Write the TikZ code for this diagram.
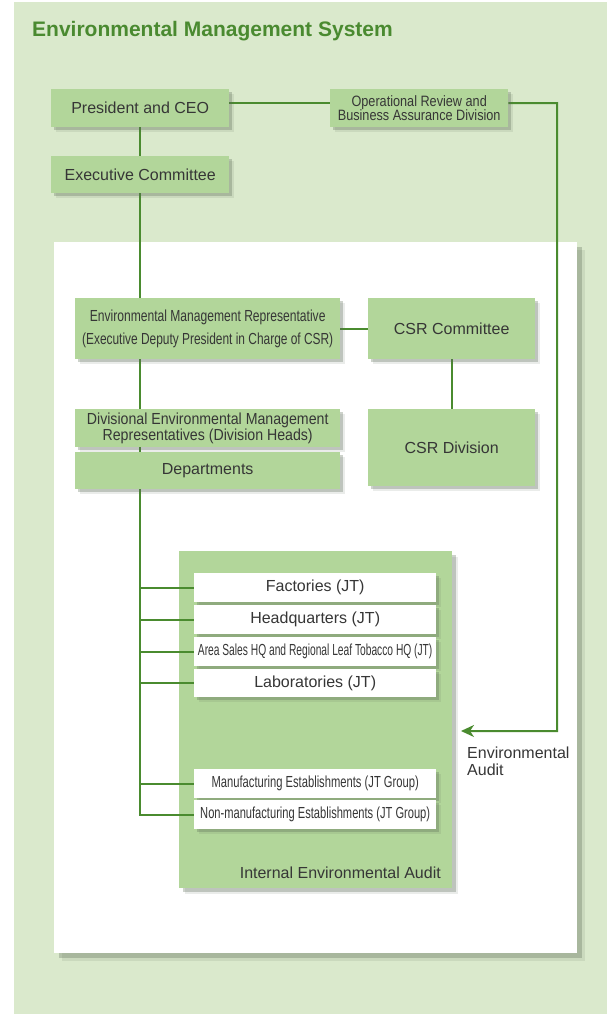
\documentclass[tikz,border=0pt]{standalone}
\usepackage{graphicx}
\usepackage{fontspec}
\setmainfont{Liberation Sans}
\usetikzlibrary{shadows,arrows.meta}

\definecolor{pagebg}{HTML}{DAE9CC}
\definecolor{boxgreen}{HTML}{B2D69A}
\definecolor{wire}{HTML}{4A8B2F}
\definecolor{titlegreen}{HTML}{4A8A30}
\definecolor{ink}{HTML}{363636}
\definecolor{shade}{HTML}{5A6A55}

\pgfdeclarelayer{page}
\pgfdeclarelayer{back}
\pgfdeclarelayer{wires}
\pgfsetlayers{page,back,wires,main}

% text sizes
\newcommand\txt{\fontsize{16}{19}\selectfont}
\newcommand\narrow[2]{\scalebox{#1}[1]{#2}}

\tikzset{
  soft shadow/.style={
    drop shadow={shadow xshift=5pt, shadow yshift=-5pt, fill=shade, opacity=0.12},
    drop shadow={shadow xshift=3pt, shadow yshift=-3pt, fill=shade, opacity=0.3}},
  box/.style={fill=boxgreen, draw=none, inner sep=0pt, anchor=north west,
    align=center, text=ink, font=\txt, soft shadow},
  unitbox/.style={box, fill=white, minimum width=242pt},
  link/.style={draw=wire, line width=2pt},
}

\begin{document}
\begin{tikzpicture}[x=1pt, y=-1pt]
  % page
  \begin{pgfonlayer}{page}
    \fill[white] (0,0) rectangle (607,1015);
    \fill[pagebg] (14,2) rectangle (607,1014);
  \end{pgfonlayer}
  \useasboundingbox (0,0) rectangle (607,1015);

  \node[anchor=base west, inner sep=0pt, text=titlegreen,
        font=\fontsize{21}{25}\selectfont\bfseries] (title) at (32,36)
        {Environmental Management System};

  % white panel and audit area
  \begin{pgfonlayer}{back}
    \node[fill=white, inner sep=0pt, anchor=north west,
          minimum width=523pt, minimum height=711pt,
          drop shadow={shadow xshift=8pt, shadow yshift=-8pt, fill=shade, opacity=0.12},
          drop shadow={shadow xshift=5pt, shadow yshift=-5pt, fill=shade, opacity=0.3}]
          (panel) at (54,242) {};
    \node[fill=boxgreen, inner sep=0pt, anchor=north west,
          minimum width=273pt, minimum height=337pt,
          drop shadow={shadow xshift=6pt, shadow yshift=-6pt, fill=shade, opacity=0.12},
          drop shadow={shadow xshift=4pt, shadow yshift=-4pt, fill=shade, opacity=0.3}]
          (audit) at (179,551) {};
  \end{pgfonlayer}

  % top management
  \node[box, minimum width=178pt, minimum height=38pt] (ceo) at (51,89)
       {President and CEO};
  \node[box, minimum width=178pt, minimum height=38pt,
        font=\fontsize{15}{14.7}\selectfont] (ord) at (330,89)
       {\narrow{0.845}{Operational Review and}\\\narrow{0.845}{Business Assurance Division}};
  \node[box, minimum width=178pt, minimum height=37pt] (exec) at (51,156)
       {Executive Committee};

  % environmental management line
  \node[box, minimum width=265pt, minimum height=61pt,
        font=\fontsize{16}{23}\selectfont] (emr) at (75,298)
       {\narrow{0.755}{Environmental Management Representative}\\
        \narrow{0.745}{(Executive Deputy President in Charge of CSR)}};
  \node[box, minimum width=167pt, minimum height=61pt] (csrc) at (368,298)
       {CSR Committee};
  \node[box, minimum width=265pt, minimum height=38pt,
        font=\fontsize{16}{15.7}\selectfont] (div) at (75,409)
       {\narrow{0.885}{Divisional Environmental Management}\\
        \narrow{0.885}{Representatives (Division Heads)}};
  \node[box, minimum width=265pt, minimum height=37pt] (dept) at (75,452)
       {Departments};
  \node[box, minimum width=167pt, minimum height=77pt] (csrd) at (368,409)
       {CSR Division};

  % establishments
  \node[unitbox, minimum height=29pt] (fact) at (194,573) {Factories (JT)};
  \node[unitbox, minimum height=29pt] (hq)   at (194,605) {Headquarters (JT)};
  \node[unitbox, minimum height=29pt] (area) at (194,637)
       {\narrow{0.64}{Area Sales HQ and Regional Leaf Tobacco HQ (JT)}};
  \node[unitbox, minimum height=28pt] (lab)  at (194,669) {Laboratories (JT)};
  \node[unitbox, minimum height=29pt] (manu) at (194,769)
       {\narrow{0.70}{Manufacturing Establishments (JT Group)}};
  \node[unitbox, minimum height=29pt] (nonm) at (194,800)
       {\narrow{0.695}{Non-manufacturing Establishments (JT Group)}};

  \node[anchor=base east, inner sep=0pt, text=ink, font=\txt] (ialabel)
       at (441,878) {Internal Environmental Audit};
  % the base anchor of a two-line node sits on its last line
  \node[anchor=base west, inner sep=0pt, text=ink, align=left,
        font=\fontsize{16}{17}\selectfont] (ealabel) at (467,775)
       {Environmental\\Audit};

  % connectors
  \coordinate (turn) at (557,103);
  \coordinate (auditin) at (461,731);
  \begin{pgfonlayer}{wires}
    \draw[link] ([yshift=5pt]ceo.east) -- ([yshift=5pt]ord.west);
    \draw[link, -{Stealth[length=13pt, width=12pt, inset=4pt]}]
         ([yshift=5pt]ord.east) -- (turn) |- (auditin);
    \draw[link] (ceo.south) -- (exec.north);
    \draw[link] (exec.south) -- (exec.south |- nonm.west) -- (nonm.west);
    \foreach \n in {fact,hq,area,lab,manu}
      \draw[link] (exec.south |- \n.west) -- (\n.west);
    \draw[link] (emr.east) -- (csrc.west);
    \draw[link] (csrc.south) -- (csrd.north);
  \end{pgfonlayer}
\end{tikzpicture}
\end{document}
